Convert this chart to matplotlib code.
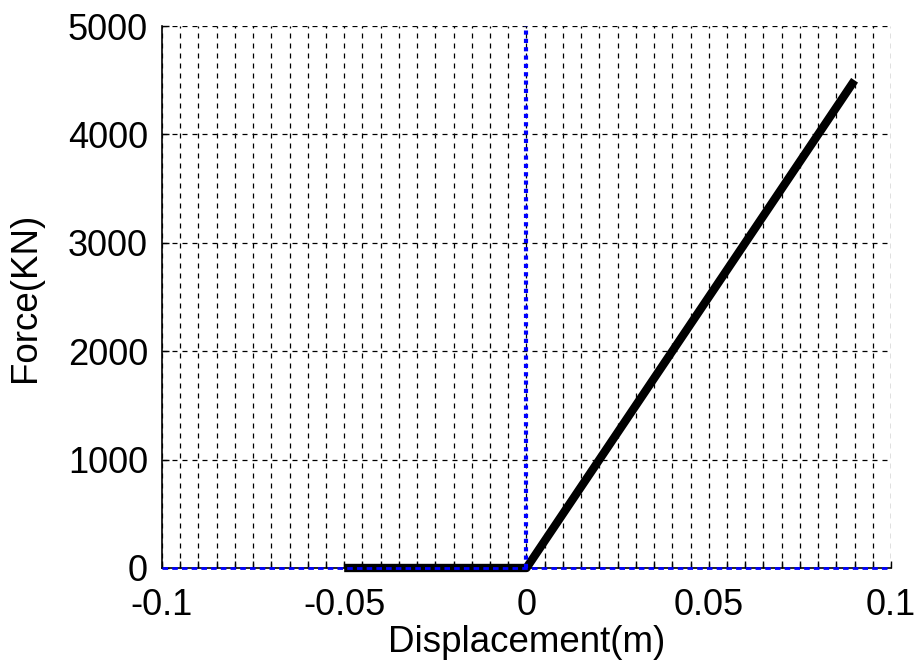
import matplotlib.pyplot as plt
import numpy as np

plt.rcParams['font.family'] = ['Liberation Sans', 'DejaVu Sans']

# force-displacement curve (m, KN)
disp = [-0.05, 0.0, 0.09]
force = [0, 0, 4500]

x_major = [-0.1, -0.05, 0, 0.05, 0.1]
x_labels = ['-0.1', '-0.05', '0', '0.05', '0.1']
y_major = [0, 1000, 2000, 3000, 4000, 5000]

fig = plt.figure(figsize=(9.2, 6.69), dpi=100)
ax = fig.add_axes([0.176, 0.151, 0.7925, 0.810])

ax.plot(disp, force, color='black', linewidth=6, solid_capstyle='butt', zorder=4,
        clip_on=False)

# blue reference axes
ax.axhline(0, color='blue', linestyle=(0, (2, 1.5)), linewidth=2, zorder=5, clip_on=False)
ax.axvline(0, color='blue', linestyle=(0, (1, 1)), linewidth=3, zorder=5, clip_on=False)

ax.set_xlim(-0.1, 0.1)
ax.set_ylim(0, 5000)
ax.set_xticks(x_major)
ax.set_xticklabels(x_labels)
ax.set_xticks(np.arange(-0.1, 0.1001, 0.005), minor=True)
ax.set_yticks(y_major)

ax.grid(which='both', axis='x', color='black', linestyle=(0, (4, 4)), linewidth=0.9)
ax.grid(which='major', axis='y', color='black', linestyle=(0, (4, 4)), linewidth=0.9)

ax.spines['top'].set_visible(False)
ax.spines['right'].set_visible(False)
ax.spines['left'].set_linewidth(1.2)
ax.spines['bottom'].set_linewidth(1.2)
ax.tick_params(which='both', direction='in', length=5, width=1, labelsize=26)
ax.tick_params(axis='y', pad=10)
ax.tick_params(axis='x', pad=14.5)

ax.set_xlabel('Displacement(m)', fontsize=26.5, labelpad=1)
ax.set_ylabel('Force(KN)', fontsize=26.5, labelpad=18)

fig.savefig('out.png', dpi=100)
